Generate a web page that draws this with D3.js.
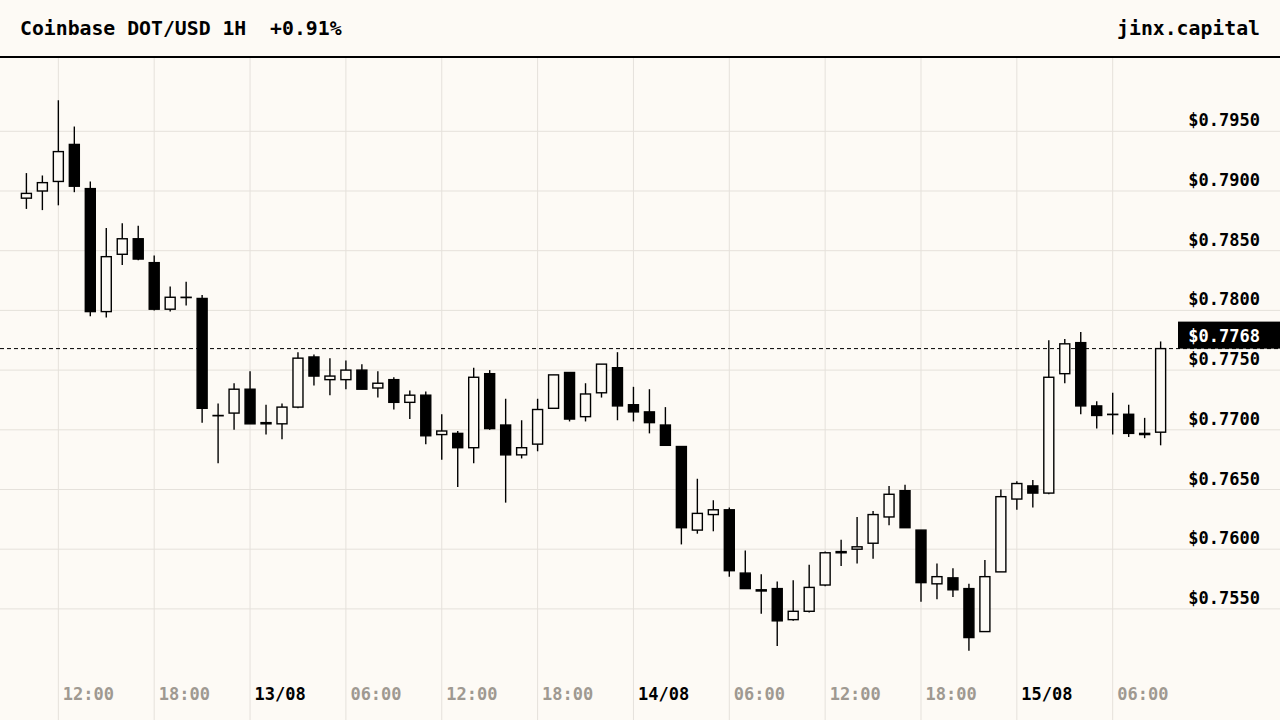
<!DOCTYPE html>
<html>
<head>
<meta charset="utf-8">
<script src="https://cdn.jsdelivr.net/npm/d3@7"></script>
<style>
  html, body { margin: 0; padding: 0; background: #fdfaf5; }
  svg { display: block; }
  text { font-family: "DejaVu Sans Mono", monospace; font-weight: bold; }
</style>
</head>
<body>
<div id="chart"></div>
<script>
// hourly candles, 12/08 10:00 -> 15/08 09:00 (UTC)
const startTime = "2023-08-12T10:00:00Z";
const open  = [0.7894,0.7900,0.7908,0.7939,0.7902,0.7799,0.7847,0.7860,0.7840,0.7801,0.7811,0.7810,0.7712,0.7714,0.7734,0.7705,0.7705,0.7719,0.7761,0.7742,0.7742,0.7750,0.7735,0.7742,0.7723,0.7729,0.7696,0.7697,0.7685,0.7747,0.7704,0.7679,0.7688,0.7718,0.7748,0.7711,0.7731,0.7752,0.7721,0.7715,0.7704,0.7686,0.7616,0.7629,0.7633,0.7580,0.7566,0.7567,0.7541,0.7548,0.7570,0.7598,0.7600,0.7605,0.7627,0.7649,0.7616,0.7571,0.7576,0.7567,0.7531,0.7581,0.7642,0.7653,0.7647,0.7747,0.7773,0.7720,0.7713,0.7713,0.7697,0.7698];
const high  = [0.7915,0.7913,0.7976,0.7954,0.7908,0.7869,0.7873,0.7871,0.7846,0.7820,0.7824,0.7813,0.7722,0.7739,0.7749,0.7721,0.7722,0.7765,0.7763,0.7760,0.7758,0.7755,0.7749,0.7744,0.7733,0.7732,0.7713,0.7699,0.7752,0.7750,0.7726,0.7708,0.7726,0.7746,0.7748,0.7739,0.7755,0.7765,0.7736,0.7734,0.7719,0.7686,0.7659,0.7641,0.7635,0.7599,0.7579,0.7573,0.7574,0.7587,0.7598,0.7608,0.7627,0.7632,0.7653,0.7654,0.7616,0.7588,0.7584,0.7571,0.7591,0.7650,0.7657,0.7658,0.7775,0.7776,0.7782,0.7724,0.7731,0.7721,0.7710,0.7774];
const low   = [0.7885,0.7884,0.7888,0.7899,0.7795,0.7794,0.7838,0.7842,0.7800,0.7799,0.7804,0.7706,0.7672,0.7700,0.7705,0.7696,0.7692,0.7718,0.7737,0.7729,0.7734,0.7734,0.7727,0.7717,0.7709,0.7688,0.7675,0.7652,0.7672,0.7700,0.7639,0.7676,0.7682,0.7718,0.7707,0.7707,0.7727,0.7708,0.7707,0.7697,0.7687,0.7604,0.7613,0.7615,0.7577,0.7567,0.7546,0.7519,0.7540,0.7547,0.7569,0.7586,0.7588,0.7592,0.7620,0.7618,0.7556,0.7558,0.7560,0.7515,0.7531,0.7581,0.7633,0.7635,0.7646,0.7739,0.7713,0.7701,0.7696,0.7694,0.7693,0.7687];
const close = [0.7898,0.7907,0.7933,0.7904,0.7799,0.7845,0.7860,0.7843,0.7801,0.7811,0.7811,0.7718,0.7712,0.7734,0.7705,0.7706,0.7719,0.7760,0.7745,0.7745,0.7750,0.7734,0.7739,0.7723,0.7729,0.7695,0.7699,0.7685,0.7744,0.7701,0.7679,0.7685,0.7717,0.7746,0.7709,0.7730,0.7755,0.7720,0.7715,0.7706,0.7687,0.7618,0.7630,0.7633,0.7582,0.7567,0.7565,0.7540,0.7548,0.7568,0.7597,0.7597,0.7602,0.7629,0.7646,0.7618,0.7572,0.7577,0.7566,0.7526,0.7577,0.7644,0.7655,0.7647,0.7744,0.7772,0.7720,0.7712,0.7713,0.7697,0.7696,0.7768];
const priceTicks = [0.7550, 0.7600, 0.7650, 0.7700, 0.7750, 0.7800, 0.7850, 0.7900, 0.7950];
const title = "Coinbase DOT/USD 1H  +0.91%";
const brand = "jinx.capital";

const W = 1280, H = 720;
const bg = "#fdfaf5", grid = "#e5e1db";

const t0 = new Date(startTime);
const candles = open.map((o, i) => ({
    time: d3.utcHour.offset(t0, i),
    open: o, high: high[i], low: low[i], close: close[i]
}));
const last = candles[candles.length - 1];

const x = d3.scaleUtc()
    .domain([candles[0].time, last.time])
    .range([26.4, 26.4 + 15.975 * (candles.length - 1)]);

const y = d3.scaleLinear()
    .domain([0.7550, 0.7950])
    .range([608.9, 131.3]);

const svg = d3.select("#chart")
    .append("svg")
    .attr("width", W)
    .attr("height", H);

svg.append("rect").attr("width", W).attr("height", H).attr("fill", bg);

// vertical grid every 6 hours
const timeTicks = d3.utcHour.every(6).range(candles[0].time, d3.utcHour.offset(last.time, 1));
const fmtTime = d => (d.getUTCHours() === 0 ? d3.utcFormat("%d/%m")(d) : d3.utcFormat("%H:%M")(d));

svg.append("g")
    .selectAll("line")
    .data(timeTicks)
    .join("line")
    .attr("x1", d => x(d)).attr("x2", d => x(d))
    .attr("y1", 58).attr("y2", H)
    .attr("stroke", grid).attr("stroke-width", 1);

// horizontal grid
svg.append("g")
    .selectAll("line")
    .data(priceTicks)
    .join("line")
    .attr("x1", 0).attr("x2", W)
    .attr("y1", d => y(d)).attr("y2", d => y(d))
    .attr("stroke", grid).attr("stroke-width", 1);

// x labels
svg.append("g")
    .selectAll("text")
    .data(timeTicks)
    .join("text")
    .attr("x", d => x(d) + 4.5)
    .attr("y", 700)
    .attr("font-size", 17)
    .attr("fill", d => d.getUTCHours() === 0 ? "#000" : "#9f9991")
    .text(fmtTime);

// price labels
svg.append("g")
    .selectAll("text")
    .data(priceTicks)
    .join("text")
    .attr("x", 1260)
    .attr("y", d => y(d) - 5)
    .attr("text-anchor", "end")
    .attr("font-size", 17)
    .attr("fill", "#000")
    .text(d => "$" + d3.format(".4f")(d));

// last price line
svg.append("line")
    .attr("x1", 0).attr("x2", W)
    .attr("y1", y(last.close)).attr("y2", y(last.close))
    .attr("stroke", "#000").attr("stroke-width", 1)
    .attr("stroke-dasharray", "4,3");

// candles
const bodyW = 10;
const cg = svg.append("g")
    .selectAll("g")
    .data(candles)
    .join("g");

cg.append("line")
    .attr("x1", d => x(d.time)).attr("x2", d => x(d.time))
    .attr("y1", d => y(d.high)).attr("y2", d => y(d.low))
    .attr("stroke", "#000").attr("stroke-width", 1.4);

cg.append("rect")
    .attr("x", d => x(d.time) - bodyW / 2)
    .attr("y", d => y(Math.max(d.open, d.close)))
    .attr("width", bodyW)
    .attr("height", d => Math.max(0.3, Math.abs(y(d.open) - y(d.close))))
    .attr("fill", d => d.close >= d.open ? bg : "#000")
    .attr("stroke", "#000")
    .attr("stroke-width", 1.4);

// last price tag
svg.append("rect")
    .attr("x", 1178).attr("y", y(last.close) - 27)
    .attr("width", W - 1178).attr("height", 27)
    .attr("fill", "#000");

svg.append("text")
    .attr("x", 1260)
    .attr("y", y(last.close) - 7)
    .attr("text-anchor", "end")
    .attr("font-size", 17)
    .attr("fill", "#fff")
    .text("$" + d3.format(".4f")(last.close));

// header
svg.append("rect").attr("width", W).attr("height", 57).attr("fill", bg);
svg.append("line")
    .attr("x1", 0).attr("x2", W)
    .attr("y1", 57).attr("y2", 57)
    .attr("stroke", "#000").attr("stroke-width", 2);

svg.append("text")
    .attr("x", 20)
    .attr("y", 35)
    .attr("font-size", 19.8)
    .attr("fill", "#000")
    .attr("xml:space", "preserve")
    .style("white-space", "pre")
    .text(title);

svg.append("text")
    .attr("x", 1260)
    .attr("y", 35)
    .attr("text-anchor", "end")
    .attr("font-size", 19.8)
    .attr("fill", "#000")
    .text(brand);
</script>
</body>
</html>
